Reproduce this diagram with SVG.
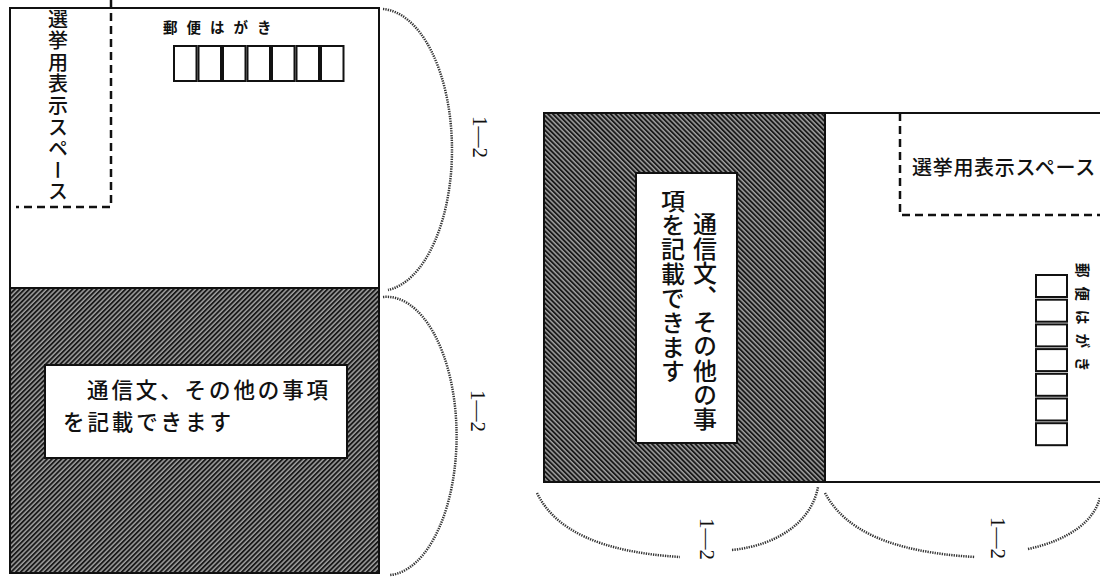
<svg xmlns="http://www.w3.org/2000/svg" width="1100" height="577" viewBox="0 0 1100 577">
<defs>
<pattern id="hatchL" patternUnits="userSpaceOnUse" width="3.4" height="3.4" patternTransform="rotate(45)">
<rect width="3.4" height="3.4" fill="#a0a0a0"/>
<rect width="1.9" height="3.4" fill="#1a1a1a"/>
</pattern>
<pattern id="hatchR" patternUnits="userSpaceOnUse" width="3.4" height="3.4" patternTransform="rotate(-45)">
<rect width="3.4" height="3.4" fill="#a0a0a0"/>
<rect width="1.9" height="3.4" fill="#1a1a1a"/>
</pattern>
</defs>
<style>
.edge{fill:none;stroke:#111;stroke-width:2}
.dash{fill:none;stroke:#111;stroke-width:2.5;stroke-dasharray:8 5}
.box{fill:#fff;stroke:#111;stroke-width:2}
.brace{fill:none;stroke:#333;stroke-width:2.5;stroke-dasharray:1.3 1.1}
.jp{font-family:"Noto Sans CJK JP","Noto Sans CJK SC",sans-serif;fill:#111;font-weight:500}
.vert{writing-mode:vertical-rl}
.stamp{font-size:14.5px;font-weight:bold;letter-spacing:9px}
.frac{font-family:"Liberation Serif",serif;font-size:21px;fill:#111}
</style>
<rect width="1100" height="577" fill="#fff"/>

<g id="card-portrait">
<rect x="10" y="288" width="369" height="285" fill="url(#hatchL)"/>
<rect class="edge" x="10" y="8" width="369" height="565"/>
<line class="edge" x1="10" y1="288" x2="379" y2="288"/>
<path class="dash" d="M111,0 V207 H16"/>
<text class="jp vert" x="58" y="9" font-size="20" letter-spacing="1.6">選挙用表示スペース</text>
<text class="jp stamp" x="163" y="33">郵便はがき</text>
<g id="zip-portrait">
<rect class="box" x="174" y="46" width="22.5" height="35"/>
<rect class="box" x="198.5" y="46" width="22.5" height="35"/>
<rect class="box" x="223" y="46" width="22.5" height="35"/>
<rect class="box" x="247.5" y="46" width="22.5" height="35"/>
<rect class="box" x="272" y="46" width="22.5" height="35"/>
<rect class="box" x="296.5" y="46" width="22.5" height="35"/>
<rect class="box" x="321" y="46" width="22.5" height="35"/>
</g>
<rect class="box" x="45" y="365" width="302" height="93"/>
<text class="jp" font-size="21.5" letter-spacing="2.9"><tspan x="87" y="398">通信文、その他の事項</tspan><tspan x="63" y="430">を記載できます</tspan></text>
</g>

<g id="card-landscape">
<rect x="544" y="113" width="281" height="369" fill="url(#hatchR)"/>
<rect class="edge" x="544" y="113" width="600" height="369"/>
<line class="edge" x1="825" y1="113" x2="825" y2="482"/>
<path class="dash" d="M900,113 V215 H1100"/>
<text class="jp" x="912" y="175" font-size="20" letter-spacing="0.7">選挙用表示スペース</text>
<rect class="box" x="636" y="173" width="101" height="270"/>
<text class="jp vert" font-size="24" letter-spacing="0.4"><tspan x="705" y="212">通信文、その他の事</tspan><tspan x="673" y="188">項を記載できます</tspan></text>
<text class="jp stamp" transform="translate(1083,263) rotate(90)" dominant-baseline="central">郵便はがき</text>
<g id="zip-landscape">
<rect class="box" x="1036" y="275" width="31" height="22"/>
<rect class="box" x="1036" y="299.7" width="31" height="22"/>
<rect class="box" x="1036" y="324.4" width="31" height="22"/>
<rect class="box" x="1036" y="349.1" width="31" height="22"/>
<rect class="box" x="1036" y="373.8" width="31" height="22"/>
<rect class="box" x="1036" y="398.5" width="31" height="22"/>
<rect class="box" x="1036" y="423.2" width="31" height="22"/>
</g>
</g>

<g id="connectors">
<path class="brace" d="M383,9 A72,141 0 0 1 388,290"/>
<path class="brace" d="M383,297 A70,139 0 0 1 390,575"/>
<path class="brace" d="M537,493 C555,530 600,552 680,557"/>
<path class="brace" d="M732,550 C780,545 812,520 818,487"/>
<path class="brace" d="M825,493 C845,530 890,552 975,557"/>
<path class="brace" d="M1028,549 C1070,540 1095,520 1100,497"/>
</g>

<g id="labels">
<text class="frac" transform="translate(480,137) rotate(90)" text-anchor="middle" dominant-baseline="central">1—2</text>
<text class="frac" transform="translate(478,411) rotate(90)" text-anchor="middle" dominant-baseline="central">1—2</text>
<text class="frac" transform="translate(707,539) rotate(90)" text-anchor="middle" dominant-baseline="central">1—2</text>
<text class="frac" transform="translate(998,538) rotate(90)" text-anchor="middle" dominant-baseline="central">1—2</text>
</g>
</svg>
